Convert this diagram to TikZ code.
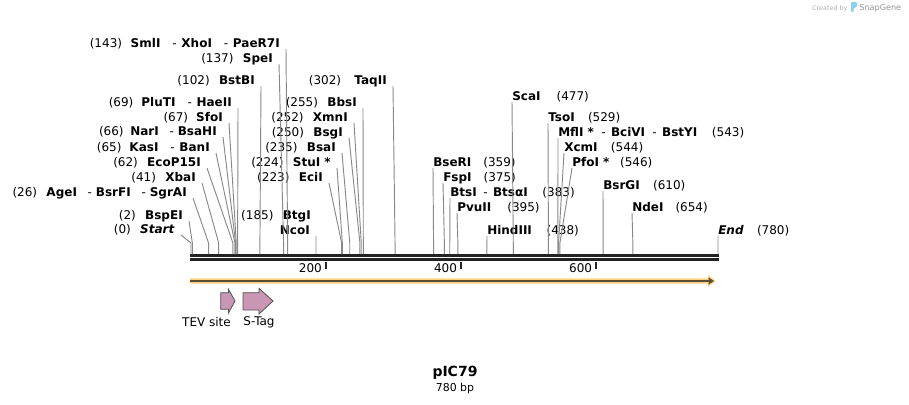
\documentclass[tikz,border=0pt]{standalone}
\usepackage{fontspec}
\setmainfont{DejaVu Sans}
\usetikzlibrary{arrows.meta}

\definecolor{cutgray}{RGB}{136,136,136}
\definecolor{bbblack}{RGB}{34,34,34}
\definecolor{bandorange}{RGB}{255,208,128}
\definecolor{banddark}{RGB}{92,76,52}
\definecolor{featpink}{RGB}{201,150,180}
\definecolor{featedge}{RGB}{80,80,80}
\definecolor{markgray}{RGB}{175,175,175}
\definecolor{markdark}{RGB}{150,150,150}
\definecolor{snapblue}{RGB}{140,210,240}

\newcommand{\bpx}{0.67564}

\begin{document}
\begin{tikzpicture}[x=0.75pt, y=-0.75pt,
    enz/.style = {font=\fontsize{9}{10}\selectfont, inner sep=0pt},
    cut/.style = {draw=cutgray, line width=0.7pt},
    bb/.style = {draw=bbblack},
    feat/.style = {fill=featpink, draw=featedge, line width=0.6pt}]
    \useasboundingbox (0,0) rectangle (909,404);

    % sites on the sequence
    \foreach \b in {0,2,26,41,62,65,66,67,69,102,137,143,185,200,223,224,235,250,252,255,302,359,375,383,395,400,438,477,529,543,544,546,600,610,654,780}
        \coordinate (s\b) at ({191+\b*\bpx},254);
    \coordinate (knee) at (0,243);

    % backbone and ruler
    \draw[bb, line width=2.25pt] (190,255.2) -- (718.5,255.2);
    \draw[bb, line width=2pt] (190,259.7) -- (718.5,259.7);
    \foreach \t in {200,400,600} {
        \draw[bb, line width=1.5pt] ([yshift=-6pt]s\t) -- ([yshift=-11pt]s\t);
        \node[enz, anchor=base east] (tick\t) at ([xshift=-3pt, yshift=-13.5pt]s\t) {\t};
    }

    % left labels
    \node[enz, anchor=base east] (SmlI) at (280,47.5) {(143)\hspace{6.5pt}\textbf{SmlI}\hspace{9pt}-\hspace{3.5pt}\textbf{XhoI}\hspace{9pt}-\hspace{3.5pt}\textbf{PaeR7I}};
    \node[enz, anchor=base east] (SpeI) at (273,62.5) {(137)\hspace{7pt}\textbf{SpeI}};
    \node[enz, anchor=base east] (BstBI) at (255,84.5) {(102)\hspace{7pt}\textbf{BstBI}};
    \node[enz, anchor=base east] (PluTI) at (232,106.5) {(69)\hspace{6pt}\textbf{PluTI}\hspace{9pt}-\hspace{3.5pt}\textbf{HaeII}};
    \node[enz, anchor=base east] (SfoI) at (223,121.5) {(67)\hspace{6pt}\textbf{SfoI}};
    \node[enz, anchor=base east] (NarI) at (217,135.5) {(66)\hspace{5pt}\textbf{NarI}\hspace{8pt}-\hspace{3pt}\textbf{BsaHI}};
    \node[enz, anchor=base east] (KasI) at (210,151.5) {(65)\hspace{6pt}\textbf{KasI}\hspace{9pt}-\hspace{3.5pt}\textbf{BanI}};
    \node[enz, anchor=base east] (EcoP15I) at (201,166.5) {(62)\hspace{7pt}\textbf{EcoP15I}};
    \node[enz, anchor=base east] (XbaI) at (196,181.5) {(41)\hspace{7pt}\textbf{XbaI}};
    \node[enz, anchor=base east] (AgeI) at (187,196.5) {(26)\hspace{7pt}\textbf{AgeI}\hspace{8pt}-\hspace{3pt}\textbf{BsrFI}\hspace{8pt}-\hspace{3pt}\textbf{SgrAI}};
    \node[enz, anchor=base east] (BspEI) at (183,219.5) {(2)\hspace{7pt}\textbf{BspEI}};
    \node[enz, anchor=base east] (Start) at (175,233.5) {(0)\hspace{7pt}\textbf{\textit{Start}}};

    % middle labels
    \node[enz, anchor=base east] (TaqII) at (387,84.5) {(302)\hspace{10pt}\textbf{TaqII}};
    \node[enz, anchor=base east] (BbsI) at (357,106.5) {(255)\hspace{7pt}\textbf{BbsI}};
    \node[enz, anchor=base east] (XmnI) at (348,121.5) {(252)\hspace{7pt}\textbf{XmnI}};
    \node[enz, anchor=base east] (BsgI) at (343,136.5) {(250)\hspace{7pt}\textbf{BsgI}};
    \node[enz, anchor=base east] (BsaI) at (336,151.5) {(235)\hspace{7pt}\textbf{BsaI}};
    \node[enz, anchor=base east] (StuI) at (331,166.5) {(224)\hspace{7pt}\textbf{StuI *}};
    \node[enz, anchor=base east] (EciI) at (323,181.5) {(223)\hspace{7pt}\textbf{EciI}};
    \node[enz, anchor=base east] (BtgI) at (311,219.5) {(185)\hspace{7pt}\textbf{BtgI}};
    \node[enz, anchor=base east] (NcoI) at (310,234.5) {\textbf{NcoI}};

    % right labels
    \node[enz, anchor=base west] (ScaI) at (512,100.5) {\textbf{ScaI}\hspace{12pt}(477)};
    \node[enz, anchor=base west] (TsoI) at (548,121.5) {\textbf{TsoI}\hspace{10pt}(529)};
    \node[enz, anchor=base west] (MflI) at (558,136.5) {\textbf{MflI *}\hspace{5.5pt}-\hspace{4pt}\textbf{BciVI}\hspace{5.5pt}-\hspace{4pt}\textbf{BstYI}\hspace{11pt}(543)};
    \node[enz, anchor=base west] (XcmI) at (564,151.5) {\textbf{XcmI}\hspace{10pt}(544)};
    \node[enz, anchor=base west] (PfoI) at (572,166.5) {\textbf{PfoI *}\hspace{8pt}(546)};
    \node[enz, anchor=base west] (BseRI) at (433,166.5) {\textbf{BseRI}\hspace{9pt}(359)};
    \node[enz, anchor=base west] (FspI) at (443,181.5) {\textbf{FspI}\hspace{9pt}(375)};
    \node[enz, anchor=base west] (BtsI) at (450,196.5) {\textbf{BtsI}\hspace{5pt}-\hspace{4pt}\textbf{BtsαI}\hspace{11pt}(383)};
    \node[enz, anchor=base west] (PvuII) at (457,211.5) {\textbf{PvuII}\hspace{12pt}(395)};
    \node[enz, anchor=base west] (HindIII) at (487,234.5) {\textbf{HindIII}\hspace{11pt}(438)};
    \node[enz, anchor=base west] (BsrGI) at (603,189.5) {\textbf{BsrGI}\hspace{10pt}(610)};
    \node[enz, anchor=base west] (NdeI) at (632,211.5) {\textbf{NdeI}\hspace{9pt}(654)};
    \node[enz, anchor=base west] (End) at (718,234.5) {\textbf{\textit{End}}\hspace{10pt}(780)};

    % cut lines
    \foreach \n/\b in {SmlI/143, SpeI/137, BstBI/102, PluTI/69, SfoI/67, NarI/66, KasI/65, EcoP15I/62, XbaI/41, AgeI/26, BspEI/2, Start/0,
                       TaqII/302, BbsI/255, XmnI/252, BsgI/250, BsaI/235, StuI/224, EciI/223, NcoI/185}
        \draw[cut] ([shift={(6,1.5)}]\n.base east) -- (s\b |- knee) -- (s\b);
    \foreach \n/\b in {ScaI/477, TsoI/529, MflI/543, XcmI/544, PfoI/546, BseRI/359, FspI/375, BtsI/383, PvuII/395, HindIII/438, BsrGI/610, NdeI/654, End/780}
        \draw[cut] ([shift={(0,1.5)}]\n.base west) -- (s\b |- knee) -- (s\b);

    % feature band
    \fill[bandorange] (190,278.3) -- (708,278.3) -- (708,275) -- (715.5,281) -- (708,287) -- (708,283.7) -- (190,283.7) -- cycle;
    \draw[draw=banddark, line width=1.4pt, -{Triangle[length=4pt, width=5pt]}] (190,281) -- (714,281);

    % features
    \draw[feat] (220.7,292.7) -- (228.5,292.7) -- (228.5,289.3) -- (235,301) -- (228.5,313) -- (228.5,309.3) -- (220.7,309.3) -- cycle;
    \draw[feat] (243,292.7) -- (259,292.7) -- (259,288.3) -- (273,301) -- (259,314) -- (259,310) -- (243,310) -- cycle;
    \node[enz] (TEV) at (206.5,322) {TEV site};
    \node[enz] (STag) at (259,322) {S-Tag};

    % title
    \node[inner sep=0pt, font=\fontsize{10.5}{12}\selectfont\bfseries] (title) at (455,373) {pIC79};
    \node[inner sep=0pt, font=\fontsize{8.2}{10}\selectfont] (size) at (455,388) {780 bp};

    % watermark
    \node[inner sep=0pt, anchor=base west, text=markgray, font=\fontsize{4.8}{5}\selectfont] (created) at (812,10) {Created by};
    \fill[snapblue, rounded corners=0.6pt] (851,2) -- (857,2) -- (857,6.5) -- (853.6,8.5) -- (853.6,12) -- (851,12) -- cycle;
    \node[inner sep=0pt, anchor=base west, text=markdark, font=\fontsize{6.1}{6}\selectfont] (snapgene) at (859,10.5) {SnapGene};
\end{tikzpicture}
\end{document}
